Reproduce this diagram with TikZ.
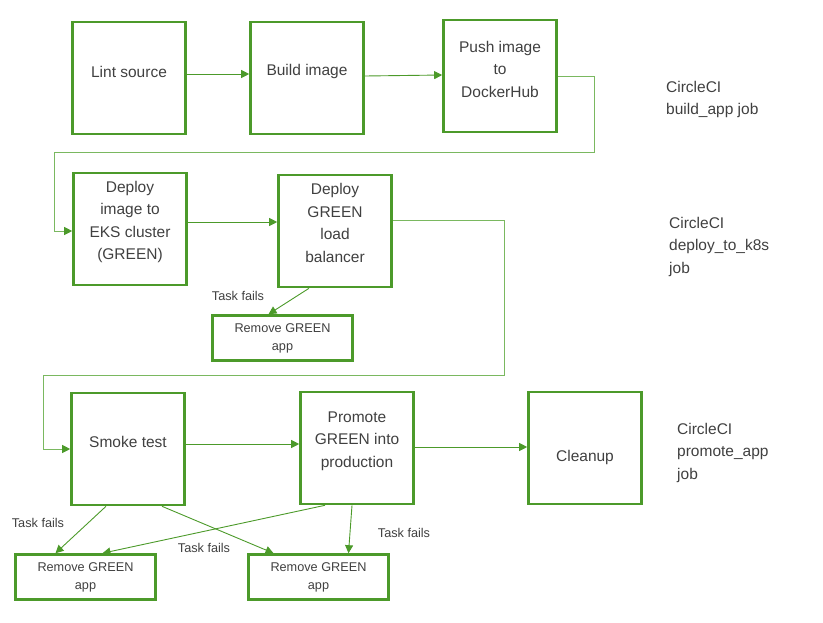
\documentclass[tikz,border=0pt]{standalone}
\usepackage{fontspec}
\setmainfont{Liberation Sans}
\usetikzlibrary{arrows.meta}
\pgfdeclarelayer{edgelayer}
\pgfdeclarelayer{nodelayer}
\pgfsetlayers{edgelayer,nodelayer,main}
\definecolor{boxgreen}{RGB}{76,154,42}
\definecolor{linegreen}{RGB}{122,184,96}
\definecolor{textgrey}{RGB}{64,64,64}
\tikzstyle{none}=[inner sep=0pt]
\tikzstyle{box}=[draw=boxgreen, line width=2.6pt, minimum width=113pt, minimum height=112pt, inner sep=0pt]
\tikzstyle{smallbox}=[draw=boxgreen, line width=2.6pt, minimum width=140pt, minimum height=45pt, inner sep=0pt, text=textgrey, align=center, font=\fontsize{12.7}{18}\selectfont]
\tikzstyle{boxtext}=[text=textgrey, align=center, inner sep=0pt, font=\fontsize{15.5}{22.5}\selectfont]
\tikzstyle{fails}=[text=textgrey, inner sep=0pt, font=\fontsize{12.7}{15}\selectfont]
\tikzstyle{job}=[text=textgrey, align=left, anchor=north west, inner sep=0pt, font=\fontsize{15.5}{22.5}\selectfont]
\tikzstyle{flow}=[draw=boxgreen, line width=0.9pt, -{Triangle[length=8pt,width=8pt]}]
\tikzstyle{route}=[draw=linegreen, line width=0.9pt, -{Triangle[length=8pt,width=8pt,color=boxgreen]}]

\begin{document}
\begin{tikzpicture}[x=1pt, y=-1pt]
	\useasboundingbox (0,0) rectangle (823,622);
	\begin{pgfonlayer}{nodelayer}
		\node [style=box, label={[style=boxtext, yshift=6pt]center:Lint source}] (0) at (129, 78) {};
		\node [style=box, label={[style=boxtext, yshift=7pt]center:Build image}] (1) at (307, 78) {};
		\node [style=box, label={[style=boxtext, yshift=7pt]center:Push image\\to\\DockerHub}] (2) at (500, 76) {};
		\node [style=box, label={[style=boxtext, yshift=7pt]center:Deploy\\image to\\EKS cluster\\(GREEN)}] (3) at (130, 229) {};
		\node [style=box, label={[style=boxtext, yshift=8pt]center:Deploy\\GREEN\\load\\balancer}] (4) at (335, 231) {};
		\node [style=smallbox] (5) at (282.5, 338) {Remove GREEN\\app};
		\node [style=box, label={[style=boxtext, yshift=7pt]center:Smoke test}] (6) at (128, 449) {};
		\node [style=box, label={[style=boxtext, yshift=7pt]center:Promote\\GREEN into\\production}] (7) at (357, 448) {};
		\node [style=box, label={[style=boxtext, yshift=-9pt]center:Cleanup}] (8) at (585, 448) {};
		\node [style=smallbox] (9) at (85.5, 577) {Remove GREEN\\app};
		\node [style=smallbox] (10) at (318.5, 577) {Remove GREEN\\app};
		\node [style=job] (11) at (666, 81) {CircleCI\\build\_app job};
		\node [style=job] (12) at (669, 217) {CircleCI\\deploy\_to\_k8s\\job};
		\node [style=job] (13) at (677, 423) {CircleCI\\promote\_app\\job};
		\node [style=fails] (14) at (238, 296) {Task fails};
		\node [style=fails] (15) at (38, 523) {Task fails};
		\node [style=fails] (16) at (204, 548) {Task fails};
		\node [style=fails] (17) at (404, 533) {Task fails};
		\node [style=none] (18) at (594, 152) {};
		\node [style=none] (19) at (54, 152) {};
		\node [style=none] (20) at (504, 375) {};
		\node [style=none] (21) at (43, 375) {};
	\end{pgfonlayer}
	\begin{pgfonlayer}{edgelayer}
		\draw [style=flow] ([yshift=4pt]0.east) to ([yshift=4pt]1.west);
		\draw [style=flow] ([yshift=2pt]1.east) to ([yshift=1pt]2.west);
		\draw [style=route] (2.east) -| (18.center) -- (19.center) |- ([yshift=-2pt]3.west);
		\draw [style=flow] ([yshift=7pt]3.east) to ([yshift=9pt]4.west);
		\draw [style=route] ([yshift=11pt]4.east) -| (20.center) -- (21.center) |- (6.west);
		\draw [style=flow] ([xshift=-26pt]4.south) to ([xshift=-14pt]5.north);
		\draw [style=flow] ([yshift=5pt]6.east) to ([yshift=4pt]7.west);
		\draw [style=flow] ([yshift=1pt]7.east) to ([yshift=1pt]8.west);
		\draw [style=flow] ([xshift=-22pt]6.south) to ([xshift=-30pt]9.north);
		\draw [style=flow] ([xshift=34pt]6.south) to ([xshift=-45pt]10.north);
		\draw [style=flow] ([xshift=-32pt]7.south) to ([xshift=17pt]9.north);
		\draw [style=flow] ([xshift=-5pt]7.south) to ([xshift=30pt]10.north);
	\end{pgfonlayer}
\end{tikzpicture}
\end{document}
